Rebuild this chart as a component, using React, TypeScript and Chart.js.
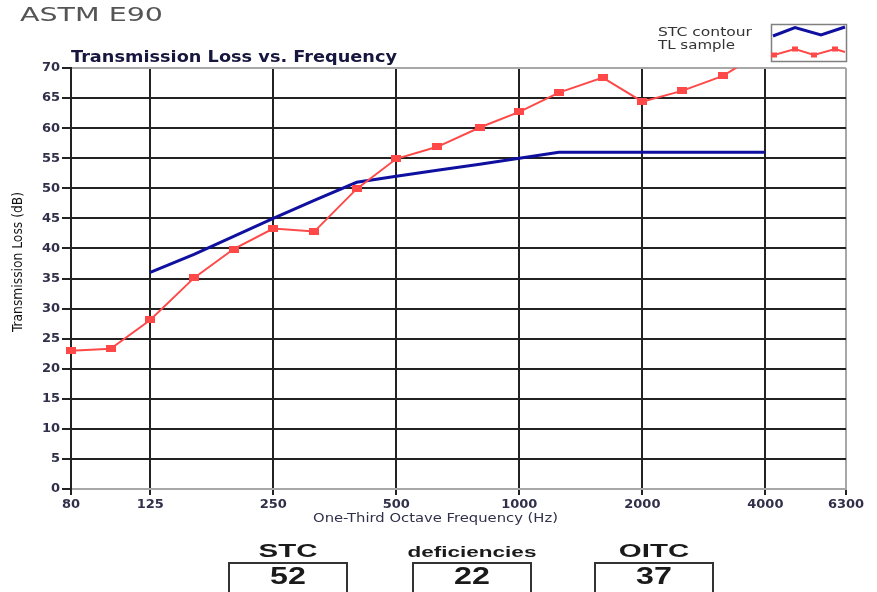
import React, { useEffect, useRef } from "react";
import { Chart, registerables } from "chart.js";

Chart.register(...registerables);

// ---- data ----
const TL_FREQS = [80, 100, 125, 160, 200, 250, 315, 400, 500, 630, 800, 1000, 1250, 1600, 2000, 2500, 3150, 4000];
const TL_SAMPLE = [23, 23.3, 28.1, 35.1, 39.9, 43.3, 42.8, 49.9, 54.9, 56.9, 60.1, 62.7, 65.9, 68.4, 64.4, 66.2, 68.7, 73];
const STC_FREQS = [125, 160, 200, 250, 315, 400, 500, 630, 800, 1000, 1250, 1600, 2000, 2500, 3150, 4000];
const STC_CONTOUR = [36, 39, 42, 45, 48, 51, 52, 53, 54, 55, 56, 56, 56, 56, 56, 56];
const X_TICKS = [80, 125, 250, 500, 1000, 2000, 4000, 6300];
const SERIES_LABELS = ["STC contour", "TL sample"];
const RATING_LABELS = ["STC", "deficiencies", "OITC"];
const RATING_VALUES = [52, 22, 37];

const BLUE = "#1010a0";
const RED = "#ff4848";
const DARK = "#222222";
const GRAY = "#a8a8a8";
const TEXT = "#30304a";
const FONT = "'DejaVu Sans', Verdana, sans-serif";

function drawText(
  ctx: CanvasRenderingContext2D,
  text: string,
  x: number,
  y: number,
  font: string,
  color: string,
  targetWidth: number,
  align: CanvasTextAlign,
  rotate = 0
) {
  ctx.save();
  ctx.font = font;
  ctx.fillStyle = color;
  ctx.textBaseline = "middle";
  ctx.textAlign = align;
  const w = ctx.measureText(text).width;
  ctx.translate(x, y);
  if (rotate) ctx.rotate(rotate);
  ctx.scale(targetWidth / w, 1);
  ctx.fillText(text, 0, 0);
  ctx.restore();
}

const textPlugin = {
  id: "textPlugin",
  afterDraw(chart: any) {
    const ctx: CanvasRenderingContext2D = chart.ctx;
    drawText(ctx, "ASTM E90", 20, 16.5, `19px ${FONT}`, "#555555", 143, "left");
    drawText(ctx, "Transmission Loss vs. Frequency", 71, 58, `bold 15px ${FONT}`, "#16163e", 326, "left");
    drawText(ctx, "Transmission Loss (dB)", 18, 262, `14px 'Liberation Sans Narrow', 'DejaVu Sans Condensed', 'Liberation Sans', sans-serif`, "#111111", 140, "center", -Math.PI / 2);
    drawText(ctx, "One-Third Octave Frequency (Hz)", 313, 519, `12px ${FONT}`, TEXT, 245, "left");

    // legend
    const ds = chart.data.datasets;
    drawText(ctx, ds[0].label, 658, 33, `12px ${FONT}`, "#333333", 94, "left");
    drawText(ctx, ds[1].label, 658, 46, `12px ${FONT}`, "#333333", 77, "left");
    ctx.save();
    ctx.fillStyle = "#ffffff";
    ctx.fillRect(771, 24, 75, 37);
    ctx.strokeStyle = "#808080";
    ctx.lineWidth = 1.5;
    ctx.strokeRect(771.5, 24.5, 75, 37);
    ctx.strokeStyle = ds[0].borderColor;
    ctx.lineWidth = 3;
    ctx.beginPath();
    ctx.moveTo(773, 36);
    ctx.lineTo(795, 27.5);
    ctx.lineTo(821, 35);
    ctx.lineTo(845, 27);
    ctx.stroke();
    ctx.strokeStyle = ds[1].borderColor;
    ctx.lineWidth = 2;
    const rp = [[774, 55], [795, 49], [814, 55], [835, 49]];
    ctx.beginPath();
    ctx.moveTo(773, 55);
    rp.forEach(([x, y]) => ctx.lineTo(x, y));
    ctx.lineTo(845, 52);
    ctx.stroke();
    ctx.fillStyle = ds[1].borderColor;
    rp.forEach(([x, y]) => ctx.fillRect(x - 3, y - 2.5, 6, 5));
    ctx.restore();
  },
};

function makeMarker(): HTMLCanvasElement {
  const c = document.createElement("canvas");
  c.width = 10;
  c.height = 7;
  const g = c.getContext("2d")!;
  g.fillStyle = RED;
  g.fillRect(0, 0, 10, 7);
  return c;
}

export default function App() {
  const ref = useRef<HTMLCanvasElement | null>(null);

  useEffect(() => {
    if (!ref.current) return;
    const chart = new Chart(ref.current, {
      type: "line",
      data: {
        datasets: [
          {
            label: SERIES_LABELS[0],
            data: STC_FREQS.map((f, i) => ({ x: f, y: STC_CONTOUR[i] })),
            borderColor: BLUE,
            backgroundColor: BLUE,
            borderWidth: 3,
            pointRadius: 0,
            tension: 0,
            order: 2,
          },
          {
            label: SERIES_LABELS[1],
            data: TL_FREQS.map((f, i) => ({ x: f, y: TL_SAMPLE[i] })),
            borderColor: RED,
            backgroundColor: RED,
            borderWidth: 2,
            pointStyle: makeMarker() as any,
            pointRadius: 5,
            tension: 0,
            order: 1,
            clip: { left: 10, right: 10, top: 0, bottom: 10 } as any,
          },
        ],
      },
      options: {
        animation: false,
        responsive: false,
        maintainAspectRatio: false,
        layout: { padding: { top: 68, right: 31, bottom: 63, left: 0 } },
        plugins: {
          legend: { display: false },
          tooltip: { enabled: false },
          title: { display: false },
        },
        scales: {
          x: {
            type: "logarithmic",
            min: 80,
            max: 6300,
            afterBuildTicks: (s: any) => {
              s.ticks = X_TICKS.map((v) => ({ value: v }));
            },
            afterFit: (s: any) => {
              s.height = 40;
            },
            ticks: {
              autoSkip: false,
              maxRotation: 0,
              padding: 2,
              color: TEXT,
              font: { family: FONT, size: 13, weight: "bold" },
              callback: (v: any) => String(v),
            },
            grid: {
              color: (c: any) => (c.tick && c.tick.value === 6300 ? GRAY : DARK),
              lineWidth: 2,
              tickLength: 6,
              tickColor: DARK,
            },
            border: { color: GRAY, width: 2 },
          },
          y: {
            min: 0,
            max: 70,
            afterFit: (s: any) => {
              s.width = 71;
            },
            ticks: {
              stepSize: 5,
              padding: 2,
              color: TEXT,
              font: { family: FONT, size: 13, weight: "bold" },
            },
            grid: {
              color: (c: any) => (c.tick && (c.tick.value === 0 || c.tick.value === 70) ? GRAY : DARK),
              lineWidth: 2,
              tickLength: 9,
              tickColor: DARK,
            },
            border: { color: DARK, width: 2 },
          },
        },
      } as any,
      plugins: [textPlugin],
    });
    return () => chart.destroy();
  }, []);

  const centers = [288, 471.5, 654];
  return (
    <div
      style={{
        position: "fixed",
        left: 0,
        top: 0,
        width: 877,
        height: 592,
        overflow: "hidden",
        background: "#fff",
        fontFamily: "'Liberation Sans', Arial, sans-serif",
      }}
    >
      <canvas ref={ref} width={877} height={592} style={{ display: "block", position: "absolute", left: 0, top: 0 }} />
      {RATING_LABELS.map((lab, i) => (
        <React.Fragment key={lab}>
          <div
            style={{
              position: "absolute",
              left: centers[i],
              top: i === 1 ? 551 : 549.5,
              transform: `translate(-50%, -50%) scaleX(${i === 1 ? 1.5 : 1.55})`,
              fontWeight: "bold",
              fontSize: i === 1 ? 15 : 19,
              color: "#1a1a1a",
              whiteSpace: "nowrap",
              lineHeight: 1,
            }}
          >
            {lab}
          </div>
          <div
            style={{
              position: "absolute",
              left: centers[i] - 60,
              top: 562,
              width: 120,
              height: 40,
              border: "2px solid #333",
              boxSizing: "border-box",
              background: "#fff",
            }}
          />
          <div
            style={{
              position: "absolute",
              left: centers[i],
              top: 576,
              transform: "translate(-50%, -50%) scaleX(1.4)",
              fontWeight: "bold",
              fontSize: 23,
              color: "#1a1a1a",
              whiteSpace: "nowrap",
              lineHeight: 1,
            }}
          >
            {RATING_VALUES[i]}
          </div>
        </React.Fragment>
      ))}
    </div>
  );
}
